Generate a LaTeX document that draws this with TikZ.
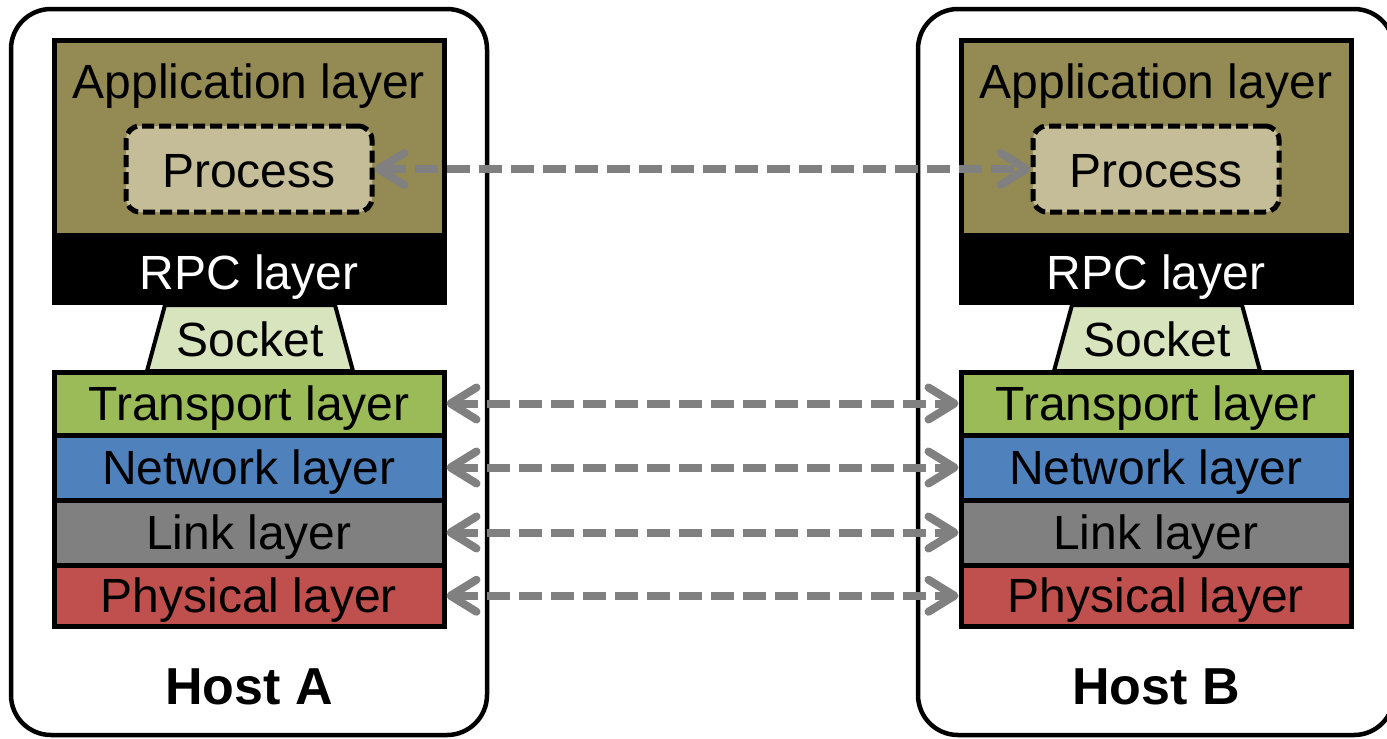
\documentclass[tikz,border=0pt]{standalone}
\usepackage{fontspec}
\setmainfont{Liberation Sans}
\usetikzlibrary{arrows.meta}
\definecolor{appolive}{HTML}{948A54}
\definecolor{procfill}{HTML}{C4BD97}
\definecolor{sockfill}{HTML}{D7E4BD}
\definecolor{transfill}{HTML}{9BBB59}
\definecolor{netfill}{HTML}{4F81BD}
\definecolor{linkfill}{HTML}{808080}
\definecolor{physfill}{HTML}{C0504D}
\definecolor{arrowgray}{HTML}{808080}
\tikzset{
  lbl/.style={font=\fontsize{48}{56}\selectfont, inner sep=0pt},
  hostbox/.style={draw=black, line width=4.5pt, rounded corners=40pt, fill=white, minimum width=476pt, minimum height=726pt, inner sep=0pt},
  layerbox/.style={draw=black, line width=5pt, minimum width=390pt, inner sep=0pt, font=\fontsize{48}{56}\selectfont, text height=34pt, text depth=0pt},
  procbox/.style={draw=black, line width=5pt, dash pattern=on 12pt off 5pt, rounded corners=14pt, fill=procfill, minimum width=246pt, minimum height=86pt, inner sep=0pt, font=\fontsize{48}{56}\selectfont, text height=36pt, text depth=0pt},
  sockstyle/.style={draw=black, line width=4pt, fill=sockfill, line join=miter},
  peer/.style={draw=arrowgray, line width=8pt, dash pattern=on 23pt off 9pt,
    {Straight Barb[length=26pt,width=32pt,round]}-{Straight Barb[length=26pt,width=32pt,round]}},
  hostlbl/.style={font=\fontsize{52}{60}\selectfont\bfseries, inner sep=0pt}
}
\begin{document}
\begin{tikzpicture}[x=1pt,y=-1pt]
\useasboundingbox (0,0) rectangle (1387,739);
\foreach \h/\dx in {A/0,B/907}{
  \begin{scope}[xshift=\dx pt]
    \node[hostbox] (host\h) at (249,372) {};
    \node[layerbox, fill=appolive, minimum height=196pt] (app\h) at (249,138) {};
    \node[lbl, anchor=base] (app\h label) at (249,98) {Application layer};
    \node[procbox] (proc\h) at (249,169) {Process};
    \node[layerbox, fill=black, text=white, minimum height=67pt, text height=40pt] (rpc\h) at (249,269) {RPC layer};
    \draw[sockstyle] (165,305) -- (335,305) -- (353,371) -- (147,371) -- cycle;
    \node[lbl, anchor=base] (sock\h) at (250,356) {Socket};
    \node[layerbox, fill=transfill, minimum height=63pt] (trans\h) at (249,403.5) {Transport layer};
    \node[layerbox, fill=netfill, minimum height=65pt] (net\h) at (249,467.5) {Network layer};
    \node[layerbox, fill=linkfill, minimum height=65pt] (link\h) at (249,532.5) {Link layer};
    \node[layerbox, fill=physfill, minimum height=61.5pt] (phys\h) at (249,595.75) {Physical layer};
    \node[hostlbl, anchor=base] (host\h label) at (249,704) {Host \h};
  \end{scope}
}
\draw[peer] (procA.east) -- (procB.west);
\draw[peer] (transA.east) -- (transB.west);
\draw[peer] (netA.east) -- (netB.west);
\draw[peer] (linkA.east) -- (linkB.west);
\draw[peer] (physA.east) -- (physB.west);
\end{tikzpicture}
\end{document}
